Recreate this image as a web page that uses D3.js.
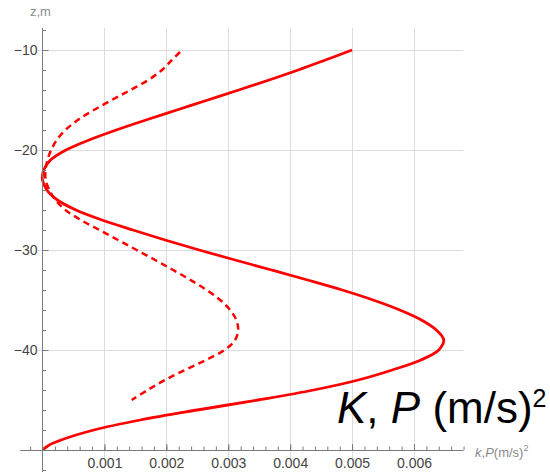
<!DOCTYPE html>
<html>
<head>
<meta charset="utf-8">
<script src="https://cdn.jsdelivr.net/npm/d3@7/dist/d3.min.js"></script>
<style>
  html, body { margin: 0; padding: 0; background: #fff; }
  svg { display: block; font-family: "Liberation Sans", Arial, sans-serif; }
</style>
</head>
<body>
<svg id="chart" width="550" height="472"></svg>
<script>
// Depth levels (m) and the two profiles K (solid) and P (dashed), in (m/s)^2
const depthK = [-10, -11, -12, -13, -14, -15, -16, -17, -18, -19, -20, -21, -22, -23, -24, -25,
  -26, -27, -28, -29, -30, -31, -32, -33, -34, -35, -36, -37, -38, -39, -40, -41, -42, -43,
  -44, -45, -46, -47, -48, -49, -49.5, -50];
const valuesK = [0.00500, 0.00457, 0.00413, 0.00366, 0.00317, 0.00267, 0.00217, 0.00167, 0.00119,
  0.00075, 0.00038, 0.00013, 0.00002, 0.00000, 0.00007, 0.00024, 0.00054, 0.00096, 0.00146,
  0.00198, 0.00253, 0.00311, 0.00370, 0.00428, 0.00484, 0.00534, 0.00577, 0.00612, 0.00636,
  0.00648, 0.00640, 0.00611, 0.00565, 0.00510, 0.00438, 0.00348, 0.00250, 0.00158, 0.00083,
  0.00030, 0.00011, 0.00000];

const depthP = [-10.2, -11, -12, -13, -14, -15, -16, -17, -18, -19, -20, -21, -22, -23, -24, -25,
  -26, -27, -28, -29, -30, -31, -32, -33, -34, -35, -36, -37, -38, -39, -40, -41, -42, -43,
  -44, -45];
const valuesP = [0.00222, 0.00209, 0.00193, 0.00171, 0.00142, 0.00112, 0.00083, 0.00057, 0.00037,
  0.00023, 0.00014, 0.00008, 0.00005, 0.00005, 0.00011, 0.00021, 0.00037, 0.00062, 0.00092,
  0.00122, 0.00152, 0.00182, 0.00211, 0.00239, 0.00265, 0.00287, 0.00303, 0.00313, 0.00316,
  0.00311, 0.00294, 0.00264, 0.00230, 0.00198, 0.00170, 0.00144];

// Axis ticks
const xMajor = [0.001, 0.002, 0.003, 0.004, 0.005, 0.006];
const xMinor = d3.range(-0.0002, 0.00681, 0.0002);
const yMajor = [-10, -20, -30, -40];
const yMinor = d3.range(-8, -52.1, -2);

const svg = d3.select("#chart");

// Scales and the plotted region
const x = d3.scaleLinear().domain([0, 0.006]).range([42.5, 414]);
const y = d3.scaleLinear().domain([-10, -50]).range([50, 450]);
const xLo = -0.00036, xHi = 0.0068, zTop = -7.8, zBot = -52.2;

// Grid
const grid = svg.append("g").attr("stroke", "#dcdcdc").attr("stroke-width", 1);
grid.selectAll("line.v").data(xMajor).join("line")
  .attr("x1", d => Math.round(x(d)) + 0.5).attr("x2", d => Math.round(x(d)) + 0.5)
  .attr("y1", y(zTop)).attr("y2", y(-50.8));
grid.selectAll("line.h").data(yMajor).join("line")
  .attr("x1", 38).attr("x2", x(xHi))
  .attr("y1", d => y(d) + 0.5).attr("y2", d => y(d) + 0.5);

// Curves
const line = d3.line()
  .x(d => x(d[1]))
  .y(d => y(d[0]))
  .curve(d3.curveCatmullRom.alpha(0.5));

svg.append("path")
  .datum(depthK.map((z, i) => [z, valuesK[i]]))
  .attr("d", line)
  .attr("fill", "none")
  .attr("stroke", "#ff0000")
  .attr("stroke-width", 2.8)
  .attr("stroke-linejoin", "round");

svg.append("path")
  .datum(depthP.map((z, i) => [z, valuesP[i]]))
  .attr("d", line)
  .attr("fill", "none")
  .attr("stroke", "#ff0000")
  .attr("stroke-width", 2.5)
  .attr("stroke-dasharray", "6.5,4.5");

// Axes: ticks point into the plot
const axisColor = "#7a7a7a";
const xAxisG = svg.append("g").attr("transform", `translate(0,${y(-50)})`);
const xMinorAxis = d3.axisBottom(x).tickValues(xMinor).tickSize(-3.5).tickFormat("");
xAxisG.append("g").call(xMinorAxis);
const xMajorAxis = d3.axisBottom(x).tickValues(xMajor).tickSize(-6).tickPadding(8)
  .tickFormat(d3.format(".3f"));
xAxisG.append("g").call(xMajorAxis);
xAxisG.selectAll(".domain").remove();
xAxisG.append("line")
  .attr("x1", x(xLo)).attr("x2", x(xHi)).attr("y1", 0.5).attr("y2", 0.5)
  .attr("stroke", axisColor);

const yAxisG = svg.append("g").attr("transform", `translate(${x(0)},0)`);
yAxisG.append("g").call(d3.axisLeft(y).tickValues(yMinor).tickSize(-3.5).tickFormat(""));
yAxisG.append("g").call(d3.axisLeft(y).tickValues(yMajor).tickSize(-6).tickPadding(5)
  .tickFormat(d3.format("d")));
yAxisG.selectAll(".domain").remove();
yAxisG.append("line")
  .attr("x1", 0).attr("x2", 0).attr("y1", y(zTop)).attr("y2", y(zBot))
  .attr("stroke", axisColor);

svg.selectAll(".tick line").attr("stroke", axisColor);
svg.selectAll(".tick text")
  .attr("fill", "#444")
  .style("font-size", "14px")
  .style("font-family", "\"Liberation Sans\", Arial, sans-serif");

// Axis names
svg.append("text")
  .attr("x", 30).attr("y", 16)
  .attr("fill", "#8a8a8a").style("font-size", "13px")
  .text("z,m");

const xName = svg.append("text")
  .attr("x", 475).attr("y", 457)
  .attr("fill", "#8a8a8a").style("font-size", "13px");
xName.append("tspan").attr("font-style", "italic").text("k");
xName.append("tspan").text(",");
xName.append("tspan").attr("font-style", "italic").text("P");
xName.append("tspan").text("(m/s)");
xName.append("tspan").attr("dy", -6).style("font-size", "9px").text("2");

// Large quantity label
const big = svg.append("text")
  .attr("x", 337).attr("y", 423)
  .attr("fill", "#000").style("font-size", "44px");
big.append("tspan").attr("font-style", "italic").text("K");
big.append("tspan").text(", ");
big.append("tspan").attr("font-style", "italic").text("P");
big.append("tspan").text(" (m/s)");
big.append("tspan").attr("dy", -16).style("font-size", "25px").text("2");
</script>
</body>
</html>
